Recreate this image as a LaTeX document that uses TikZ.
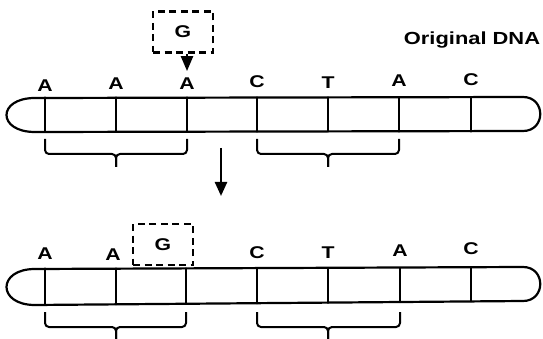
\documentclass[tikz,border=0pt]{standalone}
\usepackage{fontspec}
\setmainfont{Liberation Sans}
\usetikzlibrary{arrows.meta}
% wide bold lettering
\newcommand\widetext[2]{\scalebox{1.25}[1]{\bfseries\fontsize{#1}{#1}\selectfont #2}}
\begin{document}
\begin{tikzpicture}[x=1pt,y=-1pt,
  strand/.style={line width=2.2pt, line join=round, line cap=round},
  base/.style={inner sep=0pt, anchor=base},
  insert/.style={draw, dashed, dash pattern=on 7pt off 4.5pt, line width=2.2pt,
    minimum width=60pt, minimum height=41pt, inner sep=0pt},
  codon/.style={line width=2pt, rounded corners=4pt},
  tip/.style={-{Triangle[length=14pt,width=12pt]}, line width=2.4pt}
]
\useasboundingbox (0,0) rectangle (543,339);

% heading
\node[inner sep=0pt, anchor=base] (title) at (472,45) {\widetext{17.5}{Original DNA}};

% ---------- original strand ----------
\draw[strand] (35,98) -- (523,97) .. controls (546,97) and (546,131) .. (523,131)
  -- (35,132) .. controls (-3,132) and (-3,98) .. (35,98) -- cycle;
\foreach \x in {45,116,187,257,328,399,471}
  \draw[strand] (\x,97.5) -- (\x,131.5);

\node[base] (t1) at (45,92) {\widetext{17}{A}};
\node[base] (t2) at (116,90) {\widetext{17}{A}};
\node[base] (t3) at (187,90) {\widetext{17}{A}};
\node[base] (t4) at (257,88) {\widetext{17}{C}};
\node[base] (t5) at (328,89) {\widetext{17}{T}};
\node[base] (t6) at (399,87) {\widetext{17}{A}};
\node[base] (t7) at (471,86) {\widetext{17}{C}};

% inserted base and where it goes
\node[insert] (g1) at (183,32) {\widetext{17}{G}};
\draw[-{Triangle[length=15pt,width=12pt]}, line width=2.4pt]
  (g1.south -| t3) -- ([yshift=7pt]t3.north);

% codon braces
\draw[codon] (45,139) -- (45,154) -- (116,154) -- (116,167);
\draw[codon] (116,167) -- (116,154) -- (187,154) -- (187,139);
\draw[codon] (257,139) -- (257,154) -- (328,154) -- (328,167);
\draw[codon] (328,167) -- (328,154) -- (399,154) -- (399,139);

% step to the mutated strand
\coordinate (s1) at (221,148);
\coordinate (s2) at (221,196);
\draw[tip] (s1) -- (s2);

% ---------- strand after insertion ----------
\begin{scope}[shift={(0,171)}]
\draw[strand] (35,98) -- (523,96) .. controls (546,96) and (546,130) .. (523,130)
  -- (35,134) .. controls (-3,134) and (-3,98) .. (35,98) -- cycle;
\foreach \x/\yb in {45/133.8,116/133.2,186/132.8,257/132.3,328/131.8,400/131,471/130.3}
  \draw[strand] (\x,97.5) -- (\x,\yb);

\node[base] (b1) at (45,88) {\widetext{17}{A}};
\node[base] (b2) at (113,89) {\widetext{17}{A}};
\node[base] (b4) at (257,87) {\widetext{17}{C}};
\node[base] (b5) at (328,87) {\widetext{17}{T}};
\node[base] (b6) at (400,85) {\widetext{17}{A}};
\node[base] (b7) at (471,83) {\widetext{17}{C}};

\node[insert] (g2) at (163,73.5) {\widetext{17}{G}};

\draw[codon] (45,141) -- (45,156) -- (116,156) -- (116,168);
\draw[codon] (116,168) -- (116,156) -- (186,156) -- (186,141);
\draw[codon] (257,141) -- (257,156) -- (328,156) -- (328,168);
\draw[codon] (328,168) -- (328,156) -- (400,156) -- (400,141);
\end{scope}
\end{tikzpicture}
\end{document}
